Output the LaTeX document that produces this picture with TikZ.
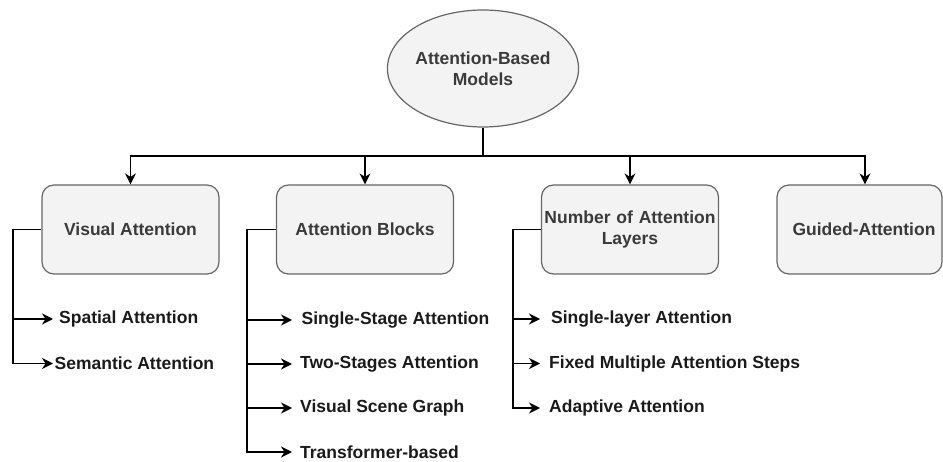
\documentclass[tikz,border=0pt]{standalone}
\usepackage{fontspec}
\setmainfont{Liberation Sans}
\usetikzlibrary{shapes.geometric,arrows.meta}
\definecolor{boxfill}{HTML}{F3F3F3}
\definecolor{boxline}{HTML}{666666}
\definecolor{boxtext}{HTML}{3A3A3A}
\definecolor{leaftext}{HTML}{1A1A1A}
\tikzset{
  labelfont/.style={font=\bfseries\fontsize{17.5}{21}\selectfont},
  rootnode/.style={ellipse, draw=boxline, line width=1.2pt, fill=boxfill,
    minimum width=178pt, minimum height=117pt, inner sep=0pt, align=center,
    text=boxtext, labelfont},
  catbox/.style={rectangle, rounded corners=12pt, draw=boxline, line width=1.2pt,
    fill=boxfill, minimum width=177pt, minimum height=89pt, inner sep=0pt,
    align=center, text=boxtext, labelfont},
  leaf/.style={anchor=west, inner ysep=0pt, text=leaftext, labelfont},
  link/.style={draw=black, line width=1.4pt},
  arrowlink/.style={link, -{Stealth[length=11pt,width=11pt,inset=3.5pt]}},
}
\begin{document}
\begin{tikzpicture}[x=1pt,y=-1pt]
\useasboundingbox (0,0) rectangle (943,462);

% root concept
\node[rootnode] (root) at (483,68.5) {Attention-Based\\Models};

% the four categories
\node[catbox] (visual) at (130.5,229.5) {Visual Attention};
\node[catbox] (blocks) at (365,229.5) {Attention Blocks};
\node[catbox, text width=176pt] (layers) at (630,229.5) {Number of Attention\\Layers};
\node[catbox, minimum width=165pt] (guided) at (859.5,229.5) {};
\node[labelfont, text=boxtext] (guidedtxt) at (864,229.5) {Guided-Attention};

% distribution bus
\coordinate (bus) at (483,156);
\draw[link] (root.south) -- (bus);
\draw[arrowlink] (bus) -| (visual.north);
\draw[arrowlink] (bus) -| (blocks.north);
\draw[arrowlink] (bus) -| (layers.north);
\draw[arrowlink] (bus) -| ([xshift=5.5pt]guided.north);

% Visual Attention leaves
\node[leaf, inner xsep=6pt] (spatial) at (53,319) {Spatial Attention};
\node[leaf, inner xsep=1.5pt] (semantic) at (53,363.5) {Semantic Attention};
\coordinate (vtrunk) at (13,229.5);
\draw[link] (visual.west) -- (vtrunk);
\draw[arrowlink] (vtrunk) |- (spatial.west);
\draw[arrowlink] (vtrunk) |- (semantic.west);

% Attention Blocks leaves
\node[leaf, inner xsep=9.5pt] (single) at (292,320) {Single-Stage Attention};
\node[leaf, inner xsep=8pt] (twostage) at (292,364) {Two-Stages Attention};
\node[leaf, inner xsep=8pt] (scene) at (292,408) {Visual Scene Graph};
\node[leaf, inner xsep=8pt] (transf) at (292,452) {Transformer-based};
\coordinate (btrunk) at (247,229.5);
\draw[link] (blocks.west) -- (btrunk);
\draw[arrowlink] (btrunk) |- (single.west);
\draw[arrowlink] (btrunk) |- (twostage.west);
\draw[arrowlink] (btrunk) |- (scene.west);
\draw[arrowlink] (btrunk) |- (transf.west);

% Number of Attention Layers leaves
\node[leaf, inner xsep=11pt] (onelayer) at (540,319) {Single-layer Attention};
\node[leaf, inner xsep=9pt] (fixed) at (540,363.5) {Fixed Multiple Attention Steps};
\node[leaf, inner xsep=9pt] (adaptive) at (540,408) {Adaptive Attention};
\coordinate (ltrunk) at (513,229.5);
\draw[link] (layers.west) -- (ltrunk);
\draw[arrowlink] (ltrunk) |- (onelayer.west);
\draw[arrowlink] (ltrunk) |- (fixed.west);
\draw[arrowlink] (ltrunk) |- (adaptive.west);
\end{tikzpicture}
\end{document}
